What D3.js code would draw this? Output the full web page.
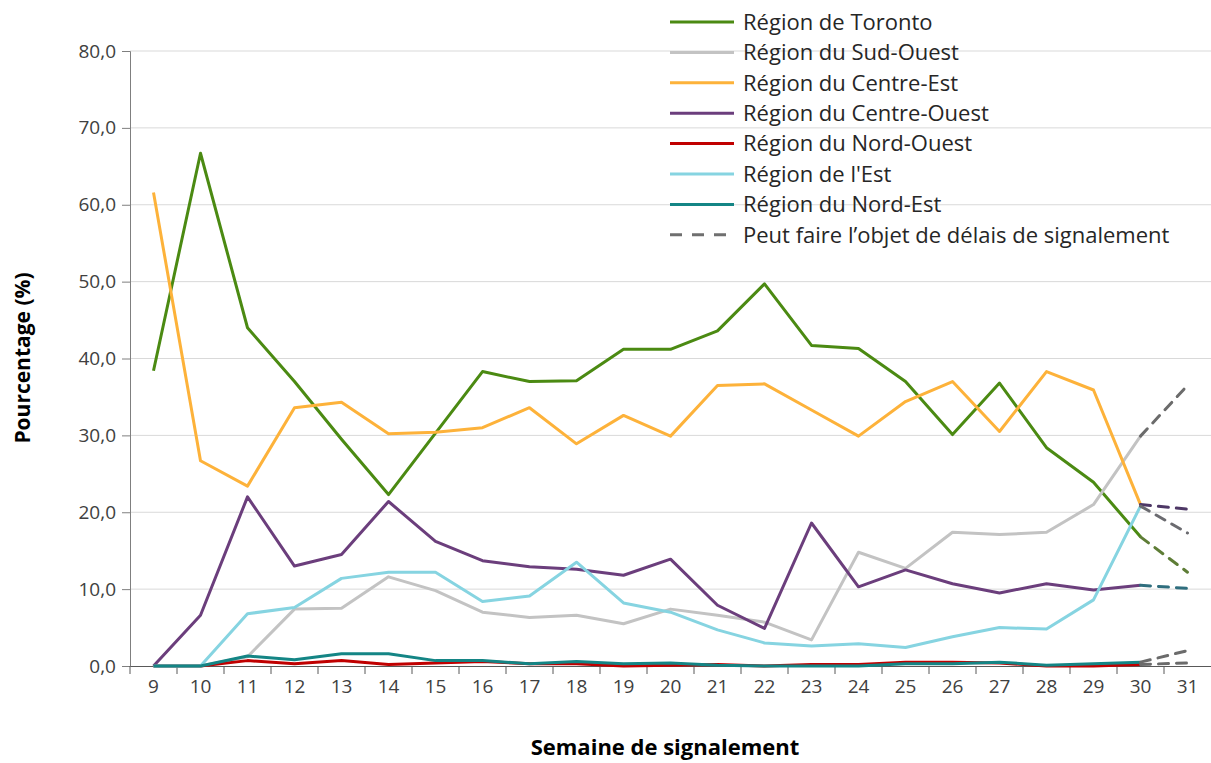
<!DOCTYPE html>
<html>
<head>
<meta charset="utf-8">
<script src="https://cdn.jsdelivr.net/npm/d3@7"></script>
<style>
  body { margin: 0; background: #fff; }
  svg { display: block; font-family: "Open Sans", "Noto Sans", sans-serif; }
</style>
</head>
<body>
<svg width="1211" height="763"></svg>
<script>
const weeks = [9, 10, 11, 12, 13, 14, 15, 16, 17, 18, 19, 20, 21, 22, 23, 24, 25, 26, 27, 28, 29, 30, 31];
const yTicks = [0, 10, 20, 30, 40, 50, 60, 70, 80];

const regions = [
  "Région de Toronto",
  "Région du Sud-Ouest",
  "Région du Centre-Est",
  "Région du Centre-Ouest",
  "Région du Nord-Ouest",
  "Région de l'Est",
  "Région du Nord-Est",
];
const colors = ["#4b8a12", "#c3c3c3", "#fdb23a", "#6b3e7c", "#c00000", "#86d4e1", "#148585"];

// semaines 9 à 30
const toronto = [38.4, 66.7, 44.0, 37.0, 29.5, 22.3, 30.3, 38.3, 37.0, 37.1, 41.2, 41.2, 43.6, 49.7, 41.7, 41.3, 37.0, 30.1, 36.8, 28.4, 23.9, 16.8];
const sudOuest = [0, 0, 1.2, 7.4, 7.5, 11.6, 9.8, 7.0, 6.3, 6.6, 5.5, 7.4, 6.6, 5.7, 3.4, 14.8, 12.7, 17.4, 17.1, 17.4, 21.0, 29.9];
const centreEst = [61.6, 26.7, 23.4, 33.6, 34.3, 30.2, 30.4, 31.0, 33.6, 28.9, 32.6, 29.9, 36.5, 36.7, 33.3, 29.9, 34.4, 37.0, 30.5, 38.3, 35.9, 21.0];
const centreOuest = [0, 6.6, 22.0, 13.0, 14.5, 21.4, 16.2, 13.7, 12.9, 12.6, 11.8, 13.9, 7.9, 4.9, 18.6, 10.3, 12.5, 10.7, 9.5, 10.7, 9.9, 10.5];
const nordOuest = [0, 0, 0.7, 0.3, 0.7, 0.2, 0.4, 0.6, 0.3, 0.3, 0, 0.1, 0.2, 0, 0.2, 0.2, 0.5, 0.5, 0.4, 0, 0, 0.2];
const est = [0, 0, 6.8, 7.6, 11.4, 12.2, 12.2, 8.4, 9.1, 13.5, 8.2, 7.0, 4.7, 3.0, 2.6, 2.9, 2.4, 3.8, 5.0, 4.8, 8.6, 20.8];
const nordEst = [0, 0, 1.3, 0.8, 1.6, 1.6, 0.7, 0.7, 0.3, 0.6, 0.3, 0.4, 0.1, 0, 0, 0, 0.3, 0.3, 0.5, 0.1, 0.3, 0.5];

// semaine 31 (peut faire l'objet de délais de signalement)
const lateValues = [12.2, 36.5, 20.4, 10.1, 0.4, 17.3, 2.0];
const lateColors = ["#5e7d36", "#6b6b6b", "#4e3866", "#2f6e7e", "#6b6b6b", "#6b6b70", "#6b6b6b"];
const delayLabel = "Peut faire l’objet de délais de signalement";

const series = [toronto, sudOuest, centreEst, centreOuest, nordOuest, est, nordEst];

const svg = d3.select("svg");
const x = d3.scaleBand().domain(weeks).range([130, 1211]).padding(0);
const y = d3.scaleLinear().domain([0, 80]).range([666, 51]);
const cx = w => x(w) + x.bandwidth() / 2;

// grille
svg.append("g")
  .selectAll("line")
  .data(yTicks.filter(t => t > 0))
  .join("line")
  .attr("x1", 130).attr("x2", 1211)
  .attr("y1", d => y(d)).attr("y2", d => y(d))
  .attr("stroke", "#d9d9d9").attr("stroke-width", 1);

// axe y
const yAxis = svg.append("g")
  .attr("transform", "translate(130,0)")
  .call(d3.axisLeft(y).tickValues(yTicks).tickSize(8).tickPadding(6)
    .tickFormat(d => d3.format(".1f")(d).replace(".", ",")));
yAxis.select(".domain").attr("stroke", "#7f7f7f");
yAxis.selectAll(".tick line").attr("stroke", "#7f7f7f");
yAxis.selectAll("text").attr("font-size", 19).attr("fill", "#404040")
  .attr("font-family", "'Open Sans', sans-serif");

// axe x (graduations entre les catégories)
const xAxis = svg.append("g")
  .attr("transform", "translate(0,666)")
  .call(d3.axisBottom(x).tickSize(0).tickPadding(14));
xAxis.select(".domain").attr("stroke", "#595959");
xAxis.selectAll("text").attr("font-size", 19).attr("fill", "#404040")
  .attr("font-family", "'Open Sans', sans-serif");
xAxis.selectAll(".bound")
  .data(weeks)
  .join("line")
  .attr("class", "bound")
  .attr("x1", d => x(d)).attr("x2", d => x(d))
  .attr("y1", 0).attr("y2", 8)
  .attr("stroke", "#595959");

// lignes
const line = d3.line().x(d => cx(d.w)).y(d => y(d.v));

series.forEach((vals, i) => {
  const pts = vals.map((v, j) => ({ w: weeks[j], v }));
  svg.append("path")
    .datum(pts)
    .attr("d", line)
    .attr("fill", "none")
    .attr("stroke", colors[i])
    .attr("stroke-width", 3)
    .attr("stroke-linejoin", "round");
});

series.forEach((vals, i) => {
  const pts = [
    { w: weeks[vals.length - 1], v: vals[vals.length - 1] },
    { w: weeks[vals.length], v: lateValues[i] },
  ];
  svg.append("path")
    .datum(pts)
    .attr("d", line)
    .attr("fill", "none")
    .attr("stroke", lateColors[i])
    .attr("stroke-width", 3)
    .attr("stroke-dasharray", "10,8")
    .attr("stroke-linecap", "round");
});

// légende
const legendItems = regions.map((r, i) => ({ label: r, color: colors[i], dash: null }))
  .concat([{ label: delayLabel, color: "#6f6f6f", dash: "12,10" }]);

const legend = svg.append("g").attr("transform", "translate(670,22)");
const rows = legend.selectAll("g")
  .data(legendItems)
  .join("g")
  .attr("transform", (d, i) => `translate(0,${i * 30.4})`);
rows.append("line")
  .attr("x1", 0).attr("x2", 64)
  .attr("stroke", d => d.color)
  .attr("stroke-width", 3)
  .attr("stroke-dasharray", d => d.dash);
rows.append("text")
  .attr("x", 73)
  .attr("dy", "0.35em")
  .attr("font-size", 22)
  .attr("fill", "#262626")
  .text(d => d.label);

// titres des axes
svg.append("text")
  .attr("transform", "translate(30,358) rotate(-90)")
  .attr("text-anchor", "middle")
  .attr("font-size", 21)
  .attr("font-weight", "bold")
  .attr("fill", "#000")
  .text("Pourcentage (%)");

svg.append("text")
  .attr("x", 665)
  .attr("y", 755)
  .attr("text-anchor", "middle")
  .attr("font-size", 22)
  .attr("font-weight", "bold")
  .attr("fill", "#000")
  .text("Semaine de signalement");
</script>
</body>
</html>
